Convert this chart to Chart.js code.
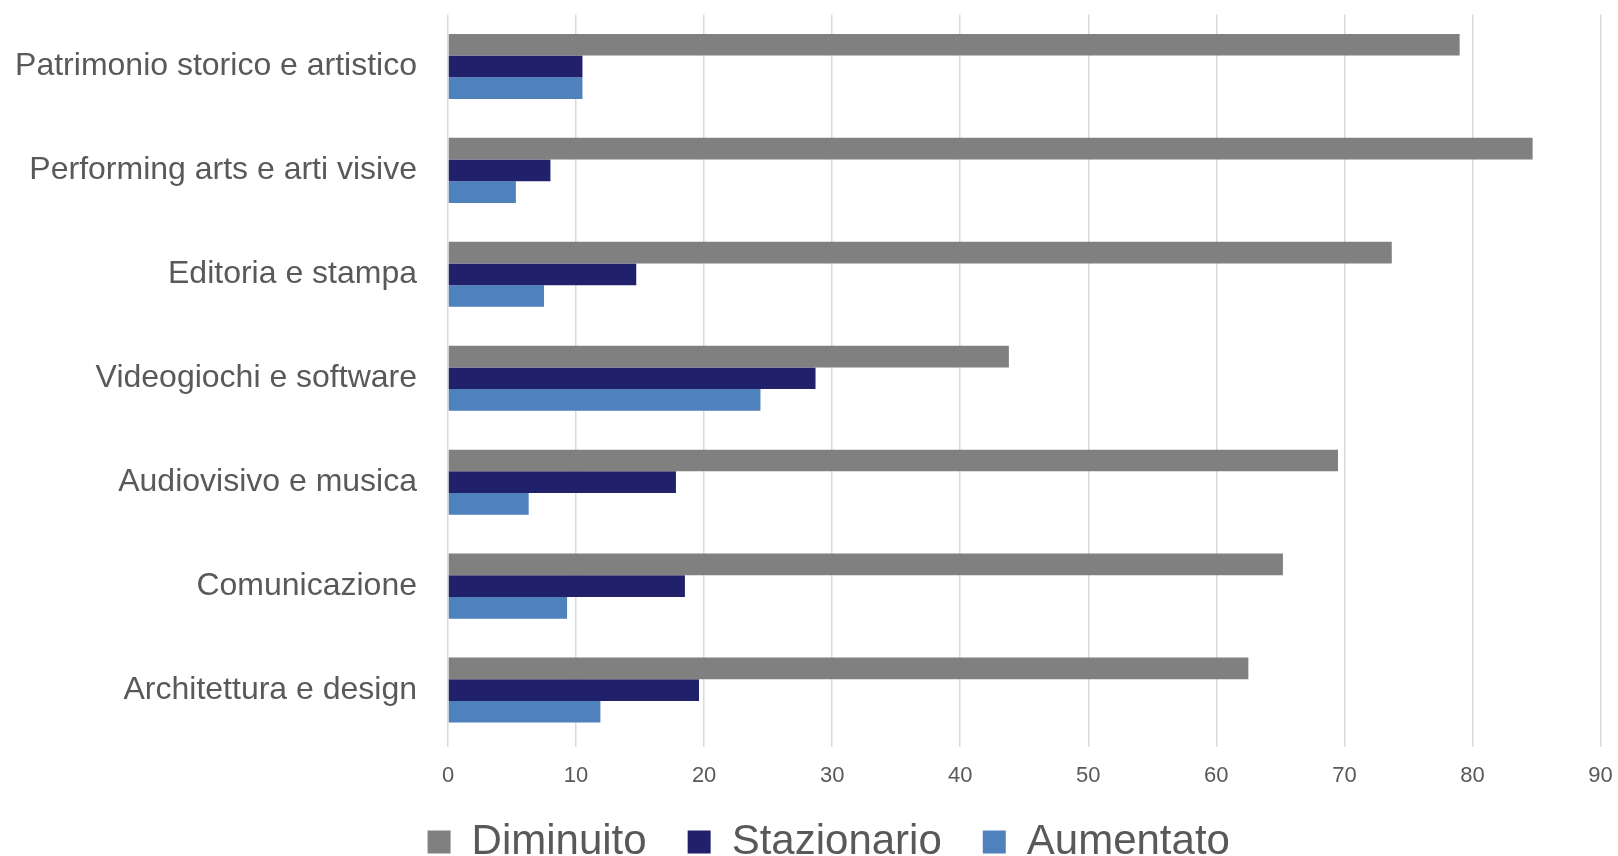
<!DOCTYPE html>
<html>
<head>
<meta charset="utf-8">
<script src="https://cdn.jsdelivr.net/npm/chart.js@4"></script>
<style>
  html, body { margin: 0; padding: 0; background: #ffffff; }
</style>
</head>
<body>
<canvas id="settoriChart" width="1618" height="856"></canvas>
<script>
// Dati
const categorie = [
    'Patrimonio storico e artistico',
    'Performing arts e arti visive',
    'Editoria e stampa',
    'Videogiochi e software',
    'Audiovisivo e musica',
    'Comunicazione',
    'Architettura e design'
];
const diminuito   = [79.0, 84.7, 73.7, 43.8, 69.5, 65.2, 62.5];
const stazionario = [10.5, 8.0, 14.7, 28.7, 17.8, 18.5, 19.6];
const aumentato   = [10.5, 5.3, 7.5, 24.4, 6.3, 9.3, 11.9];
const tickMin = 0;
const tickMax = 90;
const tickPasso = 10;

const grigioTesto = '#595959';
Chart.defaults.font.family = '"Liberation Sans", Arial, sans-serif';

// Legenda: meno alta nel layout, poi allargata verso l'alto e spostata a destra
const legendaSpostata = {
    id: 'legendaSpostata',
    beforeUpdate(chart) {
        const lg = chart.legend;
        if (!lg || lg._spostata) return;
        const fitOrig = lg.fit;
        lg.fit = function () {
            fitOrig.call(this);
            this.height = 68.5;
            this.lineWidths[0] -= 57;
        };
        lg._spostata = true;
    },
    afterLayout(chart) {
        const lg = chart.legend;
        if (!lg) return;
        lg.top -= 7.5;
    }
};

const ctx = document.getElementById('settoriChart').getContext('2d');

const settoriChart = new Chart(ctx, {
    type: 'bar',
    data: {
        labels: categorie,
        datasets: [
            { label: 'Diminuito', data: diminuito, backgroundColor: '#808080' },
            { label: 'Stazionario', data: stazionario, backgroundColor: '#21206a' },
            { label: 'Aumentato', data: aumentato, backgroundColor: '#4f81bd' }
        ]
    },
    options: {
        indexAxis: 'y',
        responsive: false,
        animation: false,
        layout: { padding: { left: 0, right: 17.5, top: 14.5, bottom: 0 } },
        datasets: {
            bar: { categoryPercentage: 0.626, barPercentage: 1, borderWidth: 0 }
        },
        plugins: {
            legend: {
                position: 'bottom',
                labels: {
                    boxWidth: 23,
                    boxHeight: 23,
                    padding: 41,
                    color: grigioTesto,
                    font: { size: 42 }
                }
            },
            tooltip: { enabled: false }
        },
        scales: {
            x: {
                min: tickMin,
                max: tickMax,
                ticks: { stepSize: tickPasso, color: grigioTesto, font: { size: 22 }, padding: 16 },
                grid: { color: '#d9d9d9', lineWidth: 1.5, tickLength: 5 },
                border: { display: false },
                afterFit: s => { s.height = 45.5; s.paddingLeft = 0; s.paddingRight = 0; }
            },
            y: {
                grid: { display: false, drawTicks: false, tickLength: 0 },
                border: { display: false },
                ticks: { color: grigioTesto, font: { size: 32 }, padding: 31 },
                afterFit: s => { s.width = 448; s.paddingTop = 0; s.paddingBottom = 0; }
            }
        }
    },
    plugins: [legendaSpostata]
});
</script>
</body>
</html>
